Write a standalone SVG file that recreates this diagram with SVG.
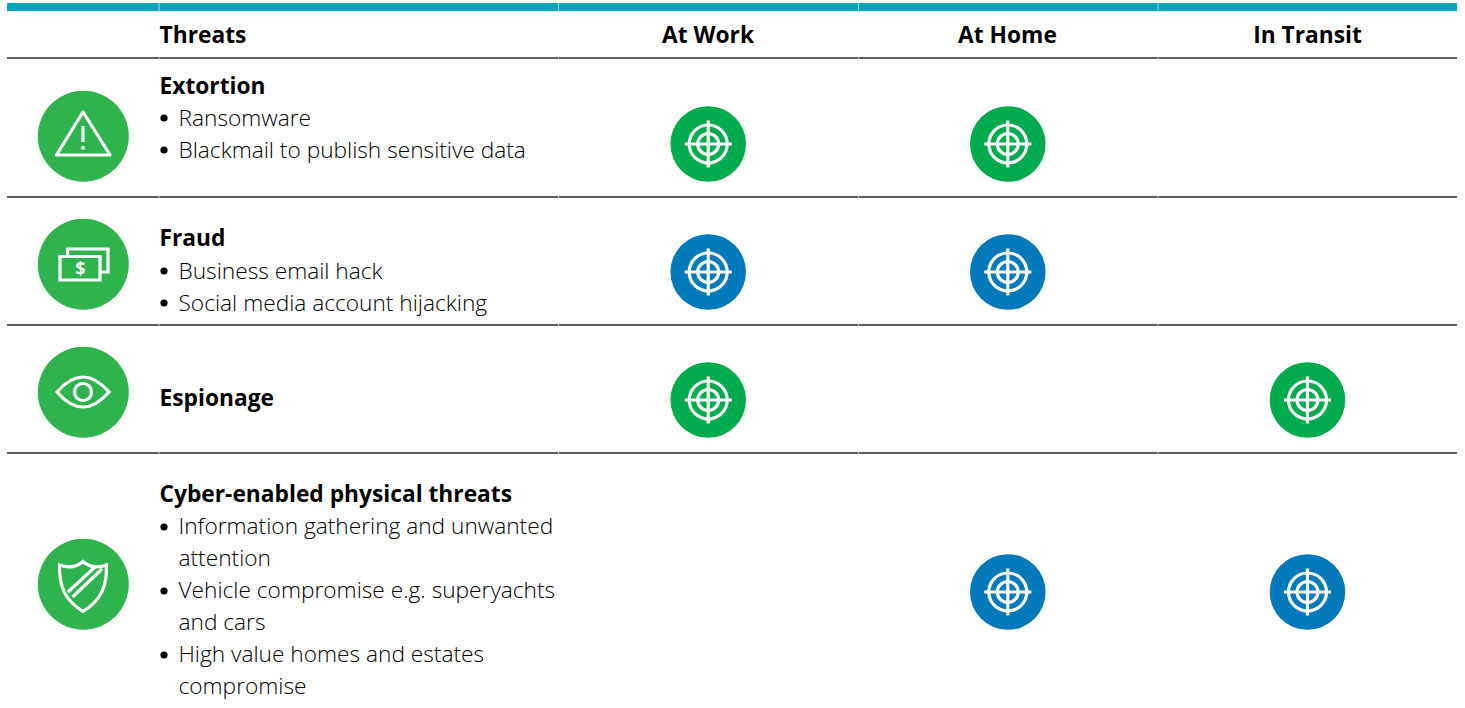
<svg xmlns="http://www.w3.org/2000/svg" width="1465" height="708" viewBox="0 0 1465 708">
<style>
text{font-family:"Open Sans","Noto Sans","Liberation Sans",sans-serif;fill:#000}
.b{font-size:22.75px;font-weight:700}
.c{text-anchor:middle}
.t{font-size:22.7px;font-weight:300;fill:#000}
.rule{stroke:#2a2a2a;stroke-width:1.6}
.w{fill:none;stroke:#fff;stroke-width:3.2}
.ic{fill:#2fb44d}.g{fill:#00ab4e}.bl{fill:#0279bb}
.notch{stroke:#fff;stroke-width:1;stroke-opacity:.65}
</style>
<defs>
<g id="target"><circle cx="0" cy="0" r="19" class="w"/><circle cx="0" cy="0" r="10.5" class="w"/><path d="M-23.5 0H23.5M0-23.5V23.5" class="w"/></g>
<circle id="dot" r="3.6" fill="#000"/>
</defs>
<g id="table-rules">
<rect x="7" y="3" width="1450" height="8" fill="#00a7b8"/>
<path class="rule" d="M7 58H1457M7 197H1457M7 325H1457M7 453H1457"/>
<path class="notch" d="M159 3V11M558.500 3V11M858.500 3V11M1158 3V11M159 57V59M558.500 57V59M858.500 57V59M1158 57V59M159 196V198M558.500 196V198M858.500 196V198M1158 196V198M159 324V326M558.500 324V326M858.500 324V326M1158 324V326M159 452V454M558.500 452V454M858.500 452V454M1158 452V454"/>
</g>
<g id="header">
<text class="b" x="159.500" y="42.500">Threats</text>
<text class="b c" x="708" y="42.500">At Work</text>
<text class="b c" x="1007.500" y="42.500">At Home</text>
<text class="b c" x="1307.500" y="42.500">In Transit</text>
</g>
<g id="extortion">
<circle class="ic" cx="83.300" cy="136.200" r="45.500"/>
<path class="w" stroke-linejoin="round" d="M83 112L56.500 155H110Z"/>
<path d="M83 126V142M83 146V149.500" class="w"/>
<text class="b" x="159.500" y="94">Extortion</text>
<use href="#dot" x="164" y="118"/><text class="t" x="178.500" y="126">Ransomware</text>
<use href="#dot" x="164" y="150"/><text class="t" x="178.500" y="158">Blackmail to publish sensitive data</text>
</g>
<g id="fraud">
<circle class="ic" cx="83.300" cy="264.200" r="45.500"/>
<path class="w" d="M60 256.500H100V280H60ZM67.500 256V249H108V272H101"/>
<text x="80.500" y="275" font-size="18" font-weight="700" text-anchor="middle" style="fill:#fff">$</text>
<text class="b" x="159.500" y="246">Fraud</text>
<use href="#dot" x="164" y="271"/><text class="t" x="178.500" y="279">Business email hack</text>
<use href="#dot" x="164" y="303"/><text class="t" x="178.500" y="311">Social media account hijacking</text>
</g>
<g id="espionage">
<circle class="ic" cx="83.300" cy="392.200" r="45.500"/>
<path class="w" d="M57 392Q83 362 109 392Q83 422 57 392Z"/>
<circle class="w" cx="83" cy="392" r="8.500"/>
<text class="b" x="159.500" y="406">Espionage</text>
</g>
<g id="cyber-physical">
<circle class="ic" cx="83.300" cy="584.200" r="45.500"/>
<path class="w" d="M59.500 565Q74 570 83 561.500Q92 570 106.500 565C107 585 102 600 83 611.500C64 600 59 585 59.500 565Z"/>
<path class="w" d="M68 592L95 567M72.500 597L102 569"/>
<text class="b" x="159.500" y="502">Cyber-enabled physical threats</text>
<use href="#dot" x="164" y="527"/><text class="t" x="178.500" y="534">Information gathering and unwanted</text>
<text class="t" x="178.500" y="566">attention</text>
<use href="#dot" x="164" y="591"/><text class="t" x="178.500" y="598">Vehicle compromise e.g. superyachts</text>
<text class="t" x="178.500" y="630">and cars</text>
<use href="#dot" x="164" y="655"/><text class="t" x="178.500" y="662">High value homes and estates</text>
<text class="t" x="178.500" y="694">compromise</text>
</g>
<g id="marker-extortion-work"><circle class="g" cx="708.200" cy="144" r="37.800"/><use href="#target" x="708.200" y="144"/></g>
<g id="marker-extortion-home"><circle class="g" cx="1007.800" cy="144" r="37.800"/><use href="#target" x="1007.800" y="144"/></g>
<g id="marker-fraud-work"><circle class="bl" cx="708.200" cy="272" r="37.800"/><use href="#target" x="708.200" y="272"/></g>
<g id="marker-fraud-home"><circle class="bl" cx="1007.800" cy="272" r="37.800"/><use href="#target" x="1007.800" y="272"/></g>
<g id="marker-espionage-work"><circle class="g" cx="708.200" cy="400" r="37.800"/><use href="#target" x="708.200" y="400"/></g>
<g id="marker-espionage-transit"><circle class="g" cx="1307.500" cy="400" r="37.800"/><use href="#target" x="1307.500" y="400"/></g>
<g id="marker-cyber-home"><circle class="bl" cx="1007.800" cy="592" r="37.800"/><use href="#target" x="1007.800" y="592"/></g>
<g id="marker-cyber-transit"><circle class="bl" cx="1307.500" cy="592" r="37.800"/><use href="#target" x="1307.500" y="592"/></g>
</svg>
